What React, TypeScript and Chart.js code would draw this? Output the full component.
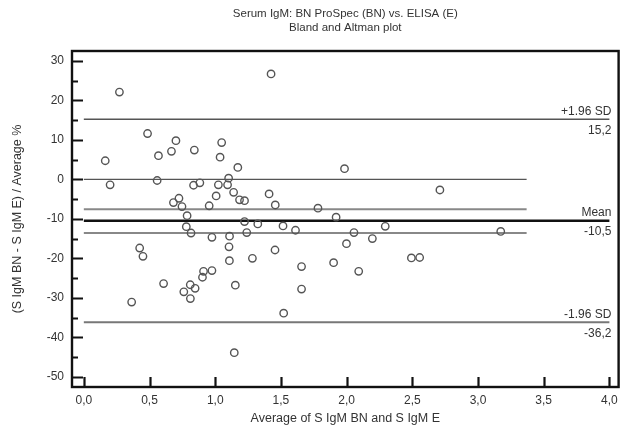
import { useEffect, useRef } from "react";
import { Chart, registerables } from "chart.js";

Chart.register(...registerables);

// ---- data ----
const avgValues = [
  0.271, 0.163, 0.2, 0.485, 0.568, 0.558, 0.667, 0.701, 0.841, 0.835,
  0.883, 1.049, 1.037, 1.024, 1.007, 1.102, 1.094, 1.14, 1.172, 1.185,
  1.223, 0.724, 0.682, 0.747, 0.954, 0.786, 0.78, 0.816, 0.975, 1.109,
  1.223, 1.324, 1.24, 1.105, 1.108, 1.283, 0.425, 0.45, 0.911, 0.975,
  0.903, 0.607, 0.81, 0.847, 0.761, 0.811, 1.153, 0.364, 1.145, 1.425,
  1.984, 1.41, 1.457, 1.782, 1.92, 1.516, 1.611, 2.056, 2.294, 2.196,
  1.999, 1.455, 1.657, 1.901, 2.092, 1.657, 1.521, 2.493, 2.556, 2.71,
  3.173,
];
const pctDiff = [
  22.1, 4.7, -1.4, 11.6, 6.0, -0.3, 7.1, 9.8, 7.4, -1.5,
  -0.9, 9.3, 5.6, -1.4, -4.2, 0.3, -1.4, -3.3, 3.0, -5.2,
  -5.4, -4.8, -5.9, -6.9, -6.7, -9.2, -12.0, -13.6, -14.7, -14.4,
  -10.7, -11.3, -13.5, -17.1, -20.6, -20.0, -17.4, -19.5, -23.3, -23.1,
  -24.8, -26.4, -26.7, -27.6, -28.5, -30.2, -26.8, -31.1, -43.9, 26.7,
  2.7, -3.7, -6.5, -7.3, -9.6, -11.8, -12.9, -13.5, -11.9, -15.0,
  -16.3, -17.9, -22.1, -21.1, -23.3, -27.8, -33.9, -19.9, -19.8, -2.7,
  -13.2,
];

const xTickValues = [0, 0.5, 1, 1.5, 2, 2.5, 3, 3.5, 4];
const yTickValues = [-50, -40, -30, -20, -10, 0, 10, 20, 30];
const yMinorValues = [-45, -35, -25, -15, -5, 5, 15, 25];

const limitValues = [15.2, -10.5, -36.2];
const limitNames = ["+1.96 SD", "Mean", "-1.96 SD"];
const limitLabels = ["15,2", "-10,5", "-36,2"];
const ciValues = [-7.6, -13.6];
const zeroValue = 0;
const lineStart = 0;
const fullLineEnd = 4.0;
const shortLineEnd = 3.37;

const titleLines = ["Serum IgM: BN ProSpec (BN) vs. ELISA (E)", "Bland and Altman plot"];
const xTitle = "Average of S IgM BN and S IgM E";
const yTitle = "(S IgM BN - S IgM E) / Average %";

const FONT = "'Liberation Sans', Arial, sans-serif";
const TEXT = "#333";

function hLine(y: number, end: number, color: string, width: number) {
  return {
    type: "line" as const,
    data: [
      { x: lineStart, y },
      { x: end, y },
    ],
    borderColor: color,
    borderWidth: width,
    pointRadius: 0,
    fill: false,
    order: 2,
  };
}

const framePlugin = {
  id: "frameAndTicks",
  afterDatasetsDraw(chart: any) {
    const { ctx, chartArea } = chart;
    const xs = chart.scales.x;
    const ys = chart.scales.y;
    ctx.save();
    ctx.strokeStyle = "#111";
    ctx.lineWidth = 2.2;
    // inner ticks
    ctx.beginPath();
    for (const v of xTickValues) {
      const px = Math.round(xs.getPixelForValue(v)) + 0.5;
      ctx.moveTo(px, chartArea.bottom);
      ctx.lineTo(px, chartArea.bottom - 10);
    }
    for (const v of yTickValues) {
      const py = Math.round(ys.getPixelForValue(v)) + 0.5;
      ctx.moveTo(chartArea.left, py);
      ctx.lineTo(chartArea.left + 11, py);
    }
    ctx.stroke();
    ctx.lineWidth = 1.8;
    ctx.beginPath();
    for (const v of yMinorValues) {
      const py = Math.round(ys.getPixelForValue(v)) + 0.5;
      ctx.moveTo(chartArea.left, py);
      ctx.lineTo(chartArea.left + 6, py);
    }
    ctx.stroke();
    // frame
    ctx.lineWidth = 2.4;
    ctx.strokeRect(chartArea.left, chartArea.top, chartArea.right - chartArea.left, chartArea.bottom - chartArea.top);
    // limit labels
    ctx.fillStyle = TEXT;
    ctx.font = `12px ${FONT}`;
    ctx.textAlign = "right";
    ctx.textBaseline = "middle";
    const rx = xs.getPixelForValue(fullLineEnd) + 2;
    limitValues.forEach((v, i) => {
      const py = ys.getPixelForValue(v);
      ctx.fillText(limitNames[i], rx, py - 8);
      ctx.fillText(limitLabels[i], rx, py + 11);
    });
    ctx.restore();
  },
};

export default function App() {
  const ref = useRef<HTMLCanvasElement | null>(null);

  useEffect(() => {
    if (!ref.current) return;
    Chart.defaults.font.family = FONT;
    const chart = new Chart(ref.current, {
      type: "scatter",
      data: {
        datasets: [
          {
            type: "scatter",
            data: avgValues.map((x, i) => ({ x, y: pctDiff[i] })),
            pointStyle: "circle",
            pointRadius: 3.7,
            borderColor: "#555",
            borderWidth: 1.4,
            backgroundColor: "rgba(0,0,0,0)",
            order: 0,
          },
          hLine(limitValues[0], fullLineEnd, "#555", 1.6),
          hLine(zeroValue, shortLineEnd, "#555", 1.3),
          hLine(ciValues[0], shortLineEnd, "#888", 2),
          hLine(limitValues[1], fullLineEnd, "#111", 2.6),
          hLine(ciValues[1], shortLineEnd, "#888", 2),
          hLine(limitValues[2], fullLineEnd, "#777", 2),
        ] as any,
      },
      options: {
        responsive: false,
        animation: false,
        devicePixelRatio: 1,
        layout: { padding: { left: 0, right: 2, top: 0, bottom: 0 } },
        plugins: {
          legend: { display: false },
          tooltip: { enabled: false },
          title: {
            display: true,
            text: titleLines,
            fullSize: false,
            color: TEXT,
            font: { size: 11.5, weight: "normal", family: FONT, lineHeight: 1.2 },
            padding: { top: 7, bottom: 16.4 },
          },
        },
        scales: {
          x: {
            type: "linear",
            min: -0.09,
            max: 4.07,
            afterBuildTicks: (s: any) => {
              s.ticks = xTickValues.map((value) => ({ value }));
            },
            afterFit: (s: any) => {
              s.height = 41;
            },
            grid: { display: false, drawTicks: false },
            border: { display: false },
            ticks: {
              autoSkip: false,
              maxRotation: 0,
              padding: 6,
              color: TEXT,
              font: { size: 12, family: FONT },
              callback: (v: any) => Number(v).toFixed(1).replace(".", ","),
            },
            title: {
              display: true,
              text: xTitle,
              color: TEXT,
              font: { size: 12.5, family: FONT, lineHeight: 1.2 },
              padding: { top: 0, bottom: 1.5 },
            },
          },
          y: {
            type: "linear",
            min: -52.6,
            max: 32.5,
            afterBuildTicks: (s: any) => {
              s.ticks = yTickValues.map((value) => ({ value }));
            },
            afterFit: (s: any) => {
              s.width = 72;
            },
            grid: { display: false, drawTicks: false },
            border: { display: false },
            ticks: {
              autoSkip: false,
              padding: 8,
              color: TEXT,
              font: { size: 12, family: FONT },
              callback: (v: any) => String(v),
            },
            title: {
              display: true,
              text: yTitle,
              color: TEXT,
              font: { size: 12.5, family: FONT, lineHeight: 1.2 },
              padding: { top: 10, bottom: 0 },
            },
          },
        },
      },
      plugins: [framePlugin],
    });
    return () => chart.destroy();
  }, []);

  return (
    <div style={{ position: "absolute", left: 0, top: 0, width: 624, height: 428, background: "#fff" }}>
      <canvas ref={ref} width={624} height={428} style={{ width: 624, height: 428, display: "block" }} />
    </div>
  );
}
